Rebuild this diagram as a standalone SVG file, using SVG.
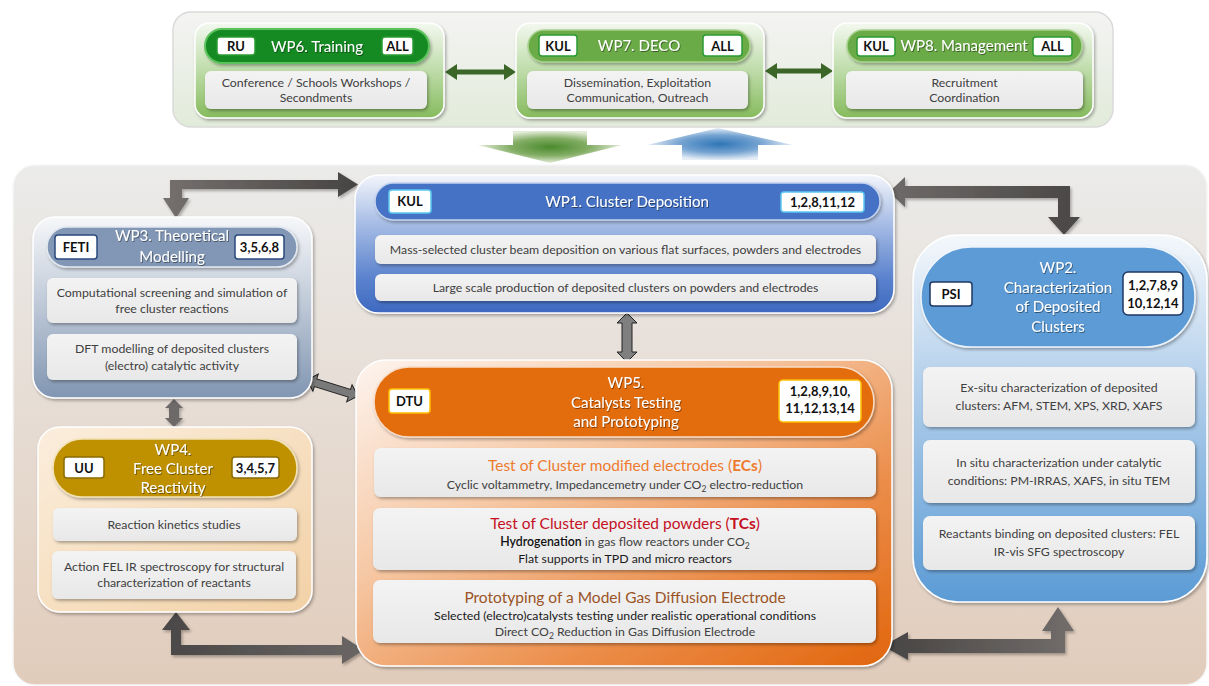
<svg xmlns="http://www.w3.org/2000/svg" width="1209" height="686" viewBox="0 0 1209 686">
<defs>
<style>
.t{font-family:Lato,"Liberation Sans",sans-serif;text-anchor:middle}
.d{font-size:12.3px;fill:#404040}
.h{font-size:15px;fill:#fff}
.l{font-size:13px;font-weight:bold;fill:#111}
.db{fill:url(#gDesc);filter:url(#sh)}
.lb{fill:#fff;stroke-width:1.5}
</style>
<filter id="sh" x="-10%" y="-20%" width="120%" height="150%"><feDropShadow dx="1.5" dy="2" stdDeviation="1.5" flood-color="#000" flood-opacity="0.3"/></filter>
<filter id="ts" x="-10%" y="-30%" width="120%" height="160%"><feDropShadow dx="0.8" dy="1" stdDeviation="0.6" flood-color="#000" flood-opacity="0.45"/></filter>
<linearGradient id="gDesc" x1="0" y1="0" x2="0" y2="1"><stop offset="0" stop-color="#f3f3f3"/><stop offset="1" stop-color="#e8e8e8"/></linearGradient>
<linearGradient id="gTop" x1="0" y1="0" x2="0" y2="1"><stop offset="0" stop-color="#f4f4f3"/><stop offset="1" stop-color="#e2ebda"/></linearGradient>
<linearGradient id="gGreen" x1="0" y1="0" x2="0" y2="1"><stop offset="0" stop-color="#f3f8ef"/><stop offset="0.4" stop-color="#c9e2b8"/><stop offset="1" stop-color="#86bb5d"/></linearGradient>
<linearGradient id="gLow" x1="0" y1="0" x2="0" y2="1"><stop offset="0" stop-color="#ebebea"/><stop offset="1" stop-color="#e1ccbb"/></linearGradient>
<linearGradient id="gWP1" x1="0" y1="0" x2="0" y2="1"><stop offset="0" stop-color="#f3f5fb"/><stop offset="0.35" stop-color="#a7bde5"/><stop offset="0.75" stop-color="#5a82cd"/><stop offset="1" stop-color="#3e69c0"/></linearGradient>
<linearGradient id="gWP3" x1="0" y1="0" x2="0" y2="1"><stop offset="0" stop-color="#f6f7f9"/><stop offset="0.45" stop-color="#c2ccda"/><stop offset="1" stop-color="#8196b2"/></linearGradient>
<linearGradient id="gWP4" x1="0" y1="0" x2="1" y2="1"><stop offset="0" stop-color="#fbeedd"/><stop offset="1" stop-color="#f2d1a6"/></linearGradient>
<linearGradient id="gWP5" x1="0" y1="0" x2="1" y2="1"><stop offset="0" stop-color="#fdf4ef"/><stop offset="0.35" stop-color="#f6c9a6"/><stop offset="0.7" stop-color="#eb8c48"/><stop offset="1" stop-color="#e1650c"/></linearGradient>
<linearGradient id="gWP2" x1="0" y1="0" x2="0" y2="1"><stop offset="0" stop-color="#f4f8fc"/><stop offset="0.4" stop-color="#b4d0eb"/><stop offset="1" stop-color="#5b9bd5"/></linearGradient>
<radialGradient id="gGA"><stop offset="0" stop-color="#4a8a2c"/><stop offset="0.55" stop-color="#84ae66"/><stop offset="1" stop-color="#e3ecd8"/></radialGradient>
<radialGradient id="gBA"><stop offset="0" stop-color="#2e75b6"/><stop offset="0.55" stop-color="#75a3d1"/><stop offset="1" stop-color="#e5edf6"/></radialGradient>
<linearGradient id="gA1" gradientUnits="userSpaceOnUse" x1="163" y1="0" x2="358" y2="0"><stop offset="0" stop-color="#75706e"/><stop offset="1" stop-color="#474443"/></linearGradient>
<linearGradient id="gA2" gradientUnits="userSpaceOnUse" x1="889" y1="0" x2="1081" y2="0"><stop offset="0" stop-color="#6e6a69"/><stop offset="1" stop-color="#4a4746"/></linearGradient>
<linearGradient id="gA3" gradientUnits="userSpaceOnUse" x1="162" y1="0" x2="364" y2="0"><stop offset="0" stop-color="#4a4746"/><stop offset="1" stop-color="#6a6665"/></linearGradient>
<linearGradient id="gA4" gradientUnits="userSpaceOnUse" x1="883" y1="0" x2="1074" y2="0"><stop offset="0" stop-color="#474443"/><stop offset="1" stop-color="#726d6b"/></linearGradient>
</defs>

<!-- backgrounds -->
<rect x="173" y="12" width="940" height="115" rx="18" fill="url(#gTop)" stroke="#dadada" stroke-width="1.5"/>
<rect x="13" y="165" width="1194" height="520" rx="22" fill="url(#gLow)" stroke="#f6f6f6" stroke-width="1.5"/>

<!-- connectors -->
<g id="connectors">
<polygon points="513,131 587,131 587,145 622,145 550,163 478,145 513,145" fill="url(#gGA)"/>
<polygon points="718,128 793,145 758,145 758,160 682,160 682,145 647,145" fill="url(#gBA)"/>
<polygon points="445,72 457,64 457,69.5 504,69.5 504,64 516,72 504,80 504,74.5 457,74.5 457,80" fill="#3b6627"/>
<polygon points="765,71 777,63 777,68.5 821,68.5 821,63 833,71 821,79 821,73.5 777,73.5 777,79" fill="#3b6627"/>
<g filter="url(#sh)">
<polygon points="170,180 338,180 338,172 358,184.5 338,197 338,189 182,189 182,198 189,198 176,218 163,198 170,198" fill="url(#gA1)"/>
<polygon points="889,192 905,177 905,186 1070,186 1070,217 1080,217 1064,235 1048,217 1058,217 1058,198 905,198 905,207" fill="url(#gA2)"/>
<polygon points="176,612 190,630 181,630 181,645 342,645 342,636 364,650 342,664 342,655 171,655 171,630 162,630" fill="url(#gA3)"/>
<polygon points="883,646 908,632 908,639 1051,639 1051,631 1042,631 1058,607 1074,631 1065,631 1065,653 908,653 908,660" fill="url(#gA4)"/>
<polygon points="174,399 183,408 179,408 179,418 183,418 174,427 165,418 169,418 169,408 165,408" fill="#6d6968"/>
</g>
<polygon points="627,313 637,323 632,323 632,352 637,352 627,362 617,352 622,352 622,323 617,323" fill="#7f7f7f" stroke="#222" stroke-width="1"/>
<polygon transform="translate(307,380) rotate(17.4)" points="0,0 9,-9 9,-4 44.4,-4 44.4,-9 53.4,0 44.4,9 44.4,4 9,4 9,9" fill="#7a7a7a" stroke="#222" stroke-width="1"/>
</g>

<!-- WP6 -->
<g id="wp6" class="t">
<rect x="195" y="23" width="249" height="95" rx="14" fill="url(#gGreen)" stroke="#fff" stroke-width="1.5" filter="url(#sh)"/>
<rect x="205" y="29" width="224" height="34" rx="17" fill="#168a23" stroke="#5cc25c" stroke-width="2" filter="url(#sh)"/>
<rect x="217" y="37" width="38" height="18" rx="3" class="lb" stroke="#2a9a33"/>
<text x="236" y="51" class="t l">RU</text>
<text x="317" y="52" class="t h" filter="url(#ts)">WP6. Training</text>
<rect x="382" y="37" width="31" height="18" rx="3" class="lb" stroke="#2a9a33"/>
<text x="397.5" y="51" class="t l">ALL</text>
<rect x="205" y="71" width="222" height="38" rx="6" class="db"/>
<text x="316" y="87" class="t d">Conference / Schools Workshops /</text>
<text x="316" y="102" class="t d">Secondments</text>
</g>

<!-- WP7 -->
<g id="wp7">
<rect x="516" y="23" width="248" height="95" rx="14" fill="url(#gGreen)" stroke="#fff" stroke-width="1.5" filter="url(#sh)"/>
<rect x="528" y="30" width="222" height="32" rx="16" fill="#6aab46" stroke="#a8d28d" stroke-width="1.5" filter="url(#sh)"/>
<rect x="539" y="35" width="38" height="21" rx="3" class="lb" stroke="#2a9a33"/>
<text x="558" y="50.5" class="t l">KUL</text>
<text x="639" y="51" class="t h" filter="url(#ts)">WP7. DECO</text>
<rect x="703" y="35" width="39" height="21" rx="3" class="lb" stroke="#2a9a33"/>
<text x="722.5" y="50.5" class="t l">ALL</text>
<rect x="527" y="71" width="221" height="38" rx="6" class="db"/>
<text x="637.5" y="87" class="t d">Dissemination, Exploitation</text>
<text x="637.5" y="102" class="t d">Communication, Outreach</text>
</g>

<!-- WP8 -->
<g id="wp8">
<rect x="833" y="23" width="260" height="95" rx="14" fill="url(#gGreen)" stroke="#fff" stroke-width="1.5" filter="url(#sh)"/>
<rect x="847" y="30" width="235" height="32" rx="16" fill="#6aab46" stroke="#a8d28d" stroke-width="1.5" filter="url(#sh)"/>
<rect x="857" y="37" width="38" height="19" rx="3" class="lb" stroke="#2a9a33"/>
<text x="876" y="51" class="t l">KUL</text>
<text x="964" y="51" class="t h" filter="url(#ts)">WP8. Management</text>
<rect x="1033" y="37" width="39" height="19" rx="3" class="lb" stroke="#2a9a33"/>
<text x="1052.5" y="51" class="t l">ALL</text>
<rect x="846" y="71" width="237" height="38" rx="6" class="db"/>
<text x="964.5" y="87" class="t d">Recruitment</text>
<text x="964.5" y="102" class="t d">Coordination</text>
</g>

<!-- WP1 -->
<g id="wp1">
<rect x="355" y="175" width="539" height="138" rx="24" fill="url(#gWP1)" stroke="#fff" stroke-width="1.5" filter="url(#sh)"/>
<rect x="375" y="183" width="505" height="37" rx="18.5" fill="#4472c4" stroke="#c3d2ee" stroke-width="1.5" filter="url(#sh)"/>
<rect x="389" y="190" width="42" height="23" rx="3" class="lb" stroke="#5bc8ef"/>
<text x="410" y="206" class="t l">KUL</text>
<text x="627" y="207" class="t h" filter="url(#ts)">WP1. Cluster Deposition</text>
<rect x="781" y="192" width="83" height="20" rx="3" class="lb" stroke="#5bc8ef"/>
<text x="822.5" y="207" class="t l">1,2,8,11,12</text>
<rect x="375" y="235" width="501" height="29" rx="6" class="db"/>
<text x="625.5" y="254" class="t d">Mass-selected cluster beam deposition on various flat surfaces, powders and electrodes</text>
<rect x="375" y="274" width="501" height="27" rx="6" class="db"/>
<text x="625.5" y="292" class="t d">Large scale production of deposited clusters on powders and electrodes</text>
</g>

<!-- WP3 -->
<g id="wp3">
<rect x="33" y="217" width="279" height="181" rx="22" fill="url(#gWP3)" stroke="#fff" stroke-width="1.5" filter="url(#sh)"/>
<rect x="47" y="227" width="250" height="40" rx="20" fill="#8197b5" stroke="#e2e8f0" stroke-width="1.5" filter="url(#sh)"/>
<rect x="55" y="235" width="42" height="24" rx="3" class="lb" stroke="#2b4a7d"/>
<text x="76" y="252" class="t l">FETI</text>
<text x="172" y="241" class="t h" filter="url(#ts)">WP3. Theoretical</text>
<text x="172" y="262" class="t h" filter="url(#ts)">Modelling</text>
<rect x="235" y="235" width="49" height="24" rx="3" class="lb" stroke="#2b4a7d"/>
<text x="259.5" y="252" class="t l">3,5,6,8</text>
<rect x="47" y="278" width="250" height="45" rx="6" class="db"/>
<text x="172" y="297" class="t d">Computational screening and simulation of</text>
<text x="172" y="313" class="t d">free cluster reactions</text>
<rect x="47" y="334" width="250" height="46" rx="6" class="db"/>
<text x="172" y="353" class="t d">DFT modelling of deposited clusters</text>
<text x="172" y="370" class="t d">(electro) catalytic activity</text>
</g>

<!-- WP4 -->
<g id="wp4">
<rect x="38" y="427" width="274" height="185" rx="22" fill="url(#gWP4)" stroke="#fff" stroke-width="1.5" filter="url(#sh)"/>
<rect x="53" y="439" width="244" height="58" rx="29" fill="#bf9000" stroke="#f2e2b4" stroke-width="1.5" filter="url(#sh)"/>
<rect x="64" y="457" width="40" height="21" rx="3" class="lb" stroke="#8a6b00"/>
<text x="84" y="472.5" class="t l">UU</text>
<text x="173" y="455" class="t h" filter="url(#ts)">WP4.</text>
<text x="173" y="474" class="t h" filter="url(#ts)">Free Cluster</text>
<text x="173" y="493" class="t h" filter="url(#ts)">Reactivity</text>
<rect x="232" y="457" width="47" height="21" rx="3" class="lb" stroke="#8a6b00"/>
<text x="255.5" y="472.5" class="t l">3,4,5,7</text>
<rect x="53" y="508" width="244" height="33" rx="6" class="db"/>
<text x="174" y="529" class="t d">Reaction kinetics studies</text>
<rect x="52" y="551" width="244" height="48" rx="6" class="db"/>
<text x="174" y="571" class="t d">Action FEL IR spectroscopy for structural</text>
<text x="174" y="587" class="t d">characterization of reactants</text>
</g>

<!-- WP5 -->
<g id="wp5">
<rect x="356" y="360" width="536" height="306" rx="30" fill="url(#gWP5)" stroke="#fff" stroke-width="1.5" filter="url(#sh)"/>
<rect x="374" y="367" width="500" height="70" rx="35" fill="#e36c0a" stroke="#f9dcc6" stroke-width="1.5" filter="url(#sh)"/>
<rect x="389" y="389" width="41" height="24" rx="3" class="lb" stroke="#ffc000"/>
<text x="409.5" y="406" class="t l">DTU</text>
<text x="626" y="388" class="t h" filter="url(#ts)">WP5.</text>
<text x="626" y="408" class="t h" filter="url(#ts)">Catalysts Testing</text>
<text x="626" y="427" class="t h" filter="url(#ts)">and Prototyping</text>
<rect x="779" y="380" width="82" height="42" rx="4" class="lb" stroke="#ffc000"/>
<text x="820" y="396" class="t l">1,2,8,9,10,</text>
<text x="820" y="413" class="t l">11,12,13,14</text>
<rect x="374" y="448" width="502" height="49" rx="7" class="db"/>
<text x="625" y="471" class="t" font-size="15.5" fill="#ee7a2e">Test of Cluster modified electrodes (<tspan font-weight="bold">ECs</tspan>)</text>
<text x="625" y="489" class="t d">Cyclic voltammetry, Impedancemetry under CO<tspan font-size="8.5" dy="3">2</tspan><tspan dy="-3"> electro-reduction</tspan></text>
<rect x="373" y="508" width="503" height="62" rx="7" class="db"/>
<text x="625" y="529" class="t" font-size="15.5" fill="#c5101f">Test of Cluster deposited powders (<tspan font-weight="bold">TCs</tspan>)</text>
<text x="625" y="546" class="t d"><tspan fill="#111" font-weight="600">Hydrogenation</tspan> in gas flow reactors under CO<tspan font-size="8.5" dy="3">2</tspan></text>
<text x="625" y="563" class="t d" fill="#111" style="fill:#1a1a1a">Flat supports in TPD and micro reactors</text>
<rect x="373" y="580" width="503" height="63" rx="7" class="db"/>
<text x="625" y="603" class="t" font-size="15.5" fill="#9a5426">Prototyping of a Model Gas Diffusion Electrode</text>
<text x="625" y="620" class="t d" style="fill:#1a1a1a">Selected (electro)catalysts testing under realistic operational conditions</text>
<text x="625" y="636" class="t d">Direct CO<tspan font-size="8.5" dy="3">2</tspan><tspan dy="-3"> Reduction in Gas Diffusion Electrode</tspan></text>
</g>

<!-- WP2 -->
<g id="wp2">
<rect x="913" y="235" width="294" height="367" rx="45" fill="url(#gWP2)" stroke="#fff" stroke-width="1.5" filter="url(#sh)"/>
<rect x="921" y="247" width="274" height="100" rx="50" fill="#5b9bd5" stroke="#eef4fb" stroke-width="1.5" filter="url(#sh)"/>
<rect x="930" y="282" width="42" height="24" rx="3" class="lb" stroke="#1f3864"/>
<text x="951" y="299" class="t l">PSI</text>
<text x="1058" y="273" class="t h" filter="url(#ts)">WP2.</text>
<text x="1058" y="293" class="t h" filter="url(#ts)">Characterization</text>
<text x="1058" y="312" class="t h" filter="url(#ts)">of Deposited</text>
<text x="1058" y="332" class="t h" filter="url(#ts)">Clusters</text>
<rect x="1123" y="272" width="60" height="43" rx="5" class="lb" stroke="#1f3864"/>
<text x="1153" y="290" class="t l">1,2,7,8,9</text>
<text x="1153" y="308" class="t l">10,12,14</text>
<rect x="923" y="367" width="272" height="60" rx="7" class="db"/>
<text x="1059" y="392" class="t d">Ex-situ characterization of deposited</text>
<text x="1059" y="410" class="t d">clusters: AFM, STEM, XPS, XRD, XAFS</text>
<rect x="923" y="440" width="272" height="63" rx="7" class="db"/>
<text x="1059" y="467" class="t d">In situ characterization under catalytic</text>
<text x="1059" y="485" class="t d">conditions: PM-IRRAS, XAFS, in situ TEM</text>
<rect x="923" y="516" width="272" height="54" rx="7" class="db"/>
<text x="1059" y="538" class="t d">Reactants binding on deposited clusters: FEL</text>
<text x="1059" y="556" class="t d">IR-vis SFG spectroscopy</text>
</g>
</svg>
